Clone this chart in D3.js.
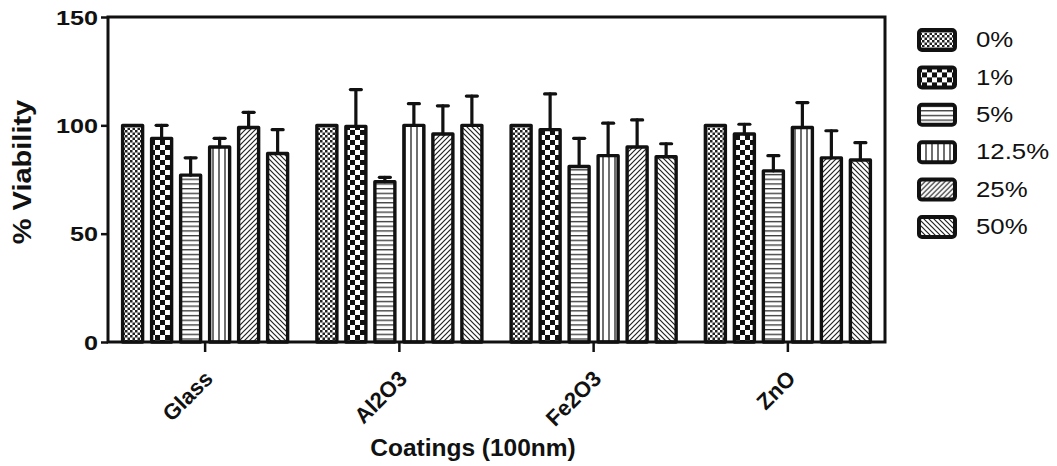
<!DOCTYPE html>
<html>
<head>
<meta charset="utf-8">
<script src="https://cdn.jsdelivr.net/npm/d3@7"></script>
<style>
  html, body { margin: 0; padding: 0; background: #ffffff; }
  svg { display: block; }
  text { font-family: "Liberation Sans", Arial, sans-serif; fill: #111; }
</style>
</head>
<body>
<svg id="chart" width="1057" height="466"></svg>
<script>
// Coatings on the x axis, one bar per concentration within each group
const categories = ["Glass", "Al2O3", "Fe2O3", "ZnO"];
const concentrations = ["0%", "1%", "5%", "12.5%", "25%", "50%"];

// Mean % viability per concentration, in coating order
const viability0 = [100, 100, 100, 100];
const viability1 = [94, 99.5, 98, 96];
const viability5 = [77, 74, 81, 79];
const viability12 = [90, 100, 86, 99];
const viability25 = [99, 96, 90, 85];
const viability50 = [87, 100, 85.5, 84];

// Upper error (SD) per concentration, in coating order
const error0 = [0, 0, 0, 0];
const error1 = [6, 17, 16.5, 4.5];
const error5 = [8, 2, 13, 7];
const error12 = [4, 10, 15, 11.5];
const error25 = [7, 13, 12.5, 12.5];
const error50 = [11, 13.5, 6, 8];

const yTicks = [0, 50, 100, 150];

const seriesValues = [viability0, viability1, viability5, viability12, viability25, viability50];
const seriesErrors = [error0, error1, error5, error12, error25, error50];

const rows = [];
categories.forEach((cat, ci) => {
  concentrations.forEach((conc, si) => {
    rows.push({ cat, conc, si, value: seriesValues[si][ci], err: seriesErrors[si][ci] });
  });
});

const svg = d3.select("#chart");
const plot = { left: 108, right: 885, top: 17, bottom: 342 };

const x0 = d3.scaleBand().domain(categories).range([plot.left, plot.right]).paddingInner(0).paddingOuter(0);
const x1 = d3.scaleBand().domain(concentrations).range([0, x0.bandwidth()]).paddingInner(0.31).paddingOuter(0.504);
const y = d3.scaleLinear().domain([0, 150]).range([plot.bottom, plot.top]);

// Hatch / checker fills, one per concentration
const defs = svg.append("defs");
function pattern(id, size) {
  const p = defs.append("pattern").attr("id", id)
    .attr("patternUnits", "userSpaceOnUse").attr("width", size).attr("height", size);
  p.append("rect").attr("width", size).attr("height", size).attr("fill", "#fff");
  return p;
}
// fine checker
let p = pattern("pat0", 5);
p.append("rect").attr("x", 0).attr("y", 0).attr("width", 2.5).attr("height", 2.5).attr("fill", "#222");
p.append("rect").attr("x", 2.5).attr("y", 2.5).attr("width", 2.5).attr("height", 2.5).attr("fill", "#222");
// coarse checker
p = pattern("pat1", 10);
p.append("rect").attr("x", 0).attr("y", 0).attr("width", 5).attr("height", 5).attr("fill", "#111");
p.append("rect").attr("x", 5).attr("y", 5).attr("width", 5).attr("height", 5).attr("fill", "#111");
// horizontal lines
p = pattern("pat2", 4.7);
p.append("line").attr("x1", 0).attr("x2", 4.7).attr("y1", 0.7).attr("y2", 0.7).attr("stroke", "#222").attr("stroke-width", 1.2);
// vertical lines
p = pattern("pat3", 6);
p.append("line").attr("y1", 0).attr("y2", 6).attr("x1", 3).attr("x2", 3).attr("stroke", "#222").attr("stroke-width", 1.3);
// forward diagonal
p = pattern("pat4", 5);
p.append("path").attr("d", "M-1,1 L1,-1 M0,5 L5,0 M4,6 L6,4").attr("stroke", "#222").attr("stroke-width", 1.2);
// backward diagonal
p = pattern("pat5", 5);
p.append("path").attr("d", "M-1,4 L1,6 M0,0 L5,5 M4,-1 L6,1").attr("stroke", "#222").attr("stroke-width", 1.2);

const fillFor = si => `url(#pat${si})`;

// Bars
svg.append("g").selectAll("rect")
  .data(rows).join("rect")
  .attr("x", d => x0(d.cat) + x1(d.conc))
  .attr("y", d => y(d.value))
  .attr("width", x1.bandwidth())
  .attr("height", d => y(0) - y(d.value))
  .attr("fill", d => fillFor(d.si))
  .attr("stroke", "#111")
  .attr("stroke-width", 3.4)
  .attr("stroke-linejoin", "round");

// Error bars (upper only)
const eb = svg.append("g").attr("stroke", "#111").attr("stroke-width", 3.2).attr("stroke-linecap", "round");
const withErr = rows.filter(d => d.err > 0);
eb.selectAll("line.stem").data(withErr).join("line").attr("class", "stem")
  .attr("x1", d => x0(d.cat) + x1(d.conc) + x1.bandwidth() / 2)
  .attr("x2", d => x0(d.cat) + x1(d.conc) + x1.bandwidth() / 2)
  .attr("y1", d => y(d.value))
  .attr("y2", d => y(d.value + d.err));
eb.selectAll("line.cap").data(withErr).join("line").attr("class", "cap")
  .attr("x1", d => x0(d.cat) + x1(d.conc) + x1.bandwidth() / 2 - 5.5)
  .attr("x2", d => x0(d.cat) + x1(d.conc) + x1.bandwidth() / 2 + 5.5)
  .attr("y1", d => y(d.value + d.err))
  .attr("y2", d => y(d.value + d.err));

// Frame: axes plus top and right border
const frame = svg.append("g").attr("fill", "none").attr("stroke", "#111").attr("stroke-width", 3);
frame.append("path")
  .attr("d", `M${plot.left},${plot.top} H${plot.right} V${plot.bottom} H${plot.left} Z`)
  .attr("stroke-linejoin", "miter");

// Y axis
const yAxis = svg.append("g").attr("transform", `translate(${plot.left},0)`)
  .call(d3.axisLeft(y).tickValues(yTicks).tickSize(7).tickFormat(d3.format("d")));
yAxis.select(".domain").remove();
yAxis.selectAll(".tick line").attr("stroke", "#111").attr("stroke-width", 2.5);
yAxis.selectAll(".tick text")
  .attr("x", 0).attr("dy", null)
  .attr("font-size", 21).attr("font-weight", "bold")
  .attr("font-family", "'Liberation Sans', Arial, sans-serif")
  .attr("dominant-baseline", "central")
  .attr("fill", "#111")
  .attr("transform", "translate(-10,0) scale(1.2,1)");

// X axis
const xAxis = svg.append("g").attr("transform", `translate(0,${plot.bottom})`)
  .call(d3.axisBottom(x0).tickSize(10).tickSizeOuter(0));
xAxis.select(".domain").remove();
xAxis.selectAll(".tick line").attr("stroke", "#111").attr("stroke-width", 2.5);
xAxis.selectAll(".tick text")
  .attr("font-size", 22).attr("font-weight", "bold")
  .attr("font-family", "'Liberation Sans', Arial, sans-serif")
  .attr("fill", "#111")
  .attr("text-anchor", "end")
  .attr("y", 0).attr("dy", null)
  .attr("transform", "translate(9,38) rotate(-45)");

// Axis titles
svg.append("text")
  .attr("transform", "translate(31,172) rotate(-90) scale(1.16,1)")
  .attr("text-anchor", "middle")
  .attr("font-size", 25).attr("font-weight", "bold")
  .text("% Viability");

svg.append("text")
  .attr("x", 473).attr("y", 456)
  .attr("text-anchor", "middle")
  .attr("font-size", 24.5).attr("font-weight", "bold")
  .text("Coatings (100nm)");

// Legend
const legend = svg.append("g").attr("transform", "translate(917,40)");
const items = legend.selectAll("g").data(concentrations).join("g")
  .attr("transform", (d, i) => `translate(0,${i * 37.4})`);
items.append("rect")
  .attr("x", 2).attr("y", -10).attr("width", 36).attr("height", 20)
  .attr("rx", 3)
  .attr("fill", (d, i) => fillFor(i))
  .attr("stroke", "#111").attr("stroke-width", 4);
items.append("text")
  .attr("transform", "translate(59,0) scale(1.2,1)")
  .attr("dominant-baseline", "central")
  .attr("font-size", 21.5)
  .text(d => d);
</script>
</body>
</html>
